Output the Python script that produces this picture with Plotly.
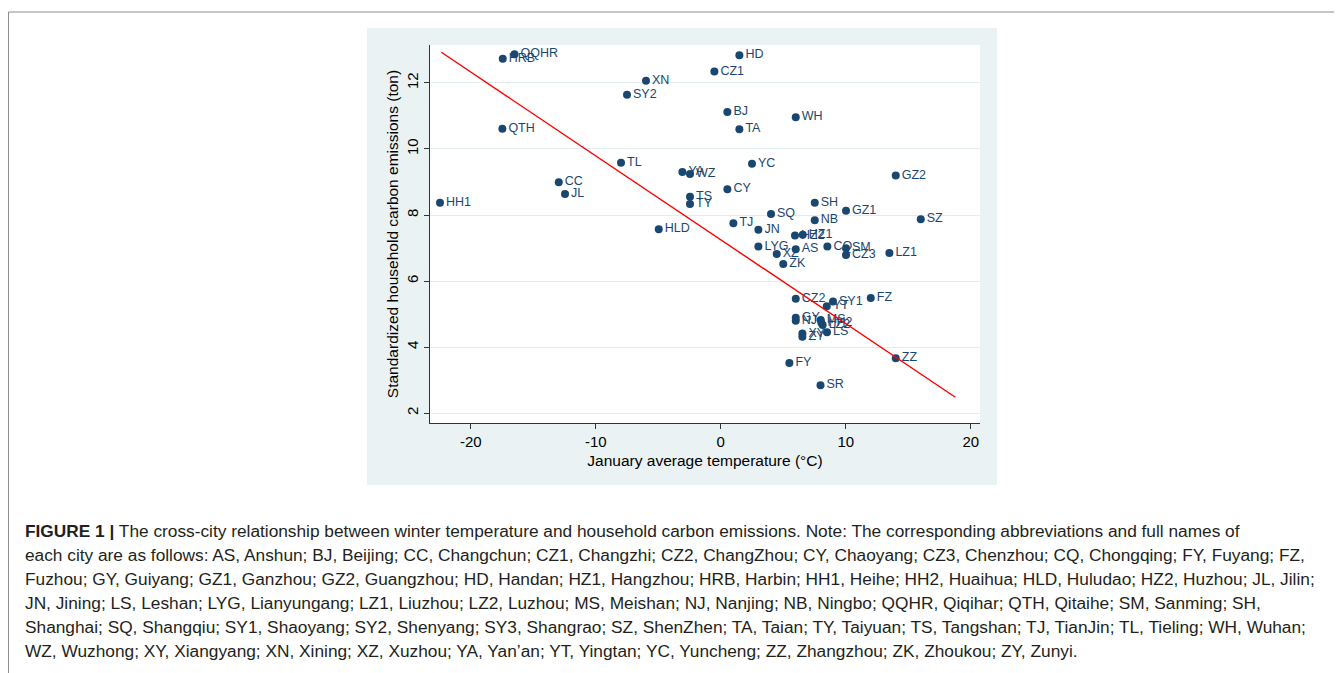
import plotly.graph_objects as go

# ---- data ----
city = ["QQHR", "HRB", "XN", "SY2", "QTH", "TL", "CC", "JL", "HH1",
        "HD", "CZ1", "BJ", "WH", "TA", "YC", "YA", "WZ", "GZ2", "CY",
        "TS", "TY", "SH", "GZ1", "SQ", "NB", "SZ", "TJ", "JN", "HLD",
        "HZ2", "HZ1", "LYG", "AS", "CQ", "SM", "CZ3", "XZ", "LZ1", "ZK",
        "CZ2", "SY1", "YT", "FZ", "GY", "NJ", "MS", "HH2", "LZ2", "LS",
        "XY", "ZY", "FY", "SR", "ZZ"]
jan_temp = [-16.5, -17.44, -5.98, -7.5, -17.47, -7.98, -12.96, -12.46, -22.46,
            1.49, -0.51, 0.53, 6.0, 1.49, 2.5, -3.07, -2.46, 14.0, 0.53,
            -2.46, -2.46, 7.52, 10.02, 4.02, 7.52, 16.0, 1.01, 3.01, -4.96,
            5.94, 6.56, 3.01, 6.0, 8.53, 10.02, 10.02, 4.48, 13.49, 5.0,
            6.0, 8.98, 8.48, 12.0, 6.0, 6.0, 8.0, 8.05, 8.15, 8.5,
            6.53, 6.53, 5.49, 7.98, 14.0]
emissions = [12.87, 12.73, 12.07, 11.64, 10.61, 9.58, 8.99, 8.64, 8.37,
             12.84, 12.35, 11.12, 10.96, 10.60, 9.55, 9.30, 9.24, 9.20, 8.78,
             8.55, 8.33, 8.37, 8.13, 8.03, 7.84, 7.87, 7.75, 7.55, 7.57,
             7.38, 7.40, 7.05, 6.96, 7.05, 6.99, 6.79, 6.82, 6.85, 6.52,
             5.46, 5.38, 5.24, 5.49, 4.89, 4.80, 4.82, 4.74, 4.67, 4.45,
             4.41, 4.31, 3.52, 2.84, 3.66]
# fitted line end points
fit_temp = [-22.35, 18.77]
fit_emis = [12.93, 2.48]

x_ticks = [-20, -10, 0, 10, 20]
x_tick_text = ["-20", "-10", "0", "10", "20"]
y_ticks = [2, 4, 6, 8, 10, 12]
y_tick_text = ["2", "4", "6", "8", "10", "12"]

caption_lines = [
    "<b>FIGURE 1 |</b> The cross-city relationship between winter temperature and household carbon emissions. Note: The corresponding abbreviations and full names of",
    "each city are as follows: AS, Anshun; BJ, Beijing; CC, Changchun; CZ1, Changzhi; CZ2, ChangZhou; CY, Chaoyang; CZ3, Chenzhou; CQ, Chongqing; FY, Fuyang; FZ,",
    "Fuzhou; GY, Guiyang; GZ1, Ganzhou; GZ2, Guangzhou; HD, Handan; HZ1, Hangzhou; HRB, Harbin; HH1, Heihe; HH2, Huaihua; HLD, Huludao; HZ2, Huzhou; JL, Jilin;",
    "JN, Jining; LS, Leshan; LYG, Lianyungang; LZ1, Liuzhou; LZ2, Luzhou; MS, Meishan; NJ, Nanjing; NB, Ningbo; QQHR, Qiqihar; QTH, Qitaihe; SM, Sanming; SH,",
    "Shanghai; SQ, Shangqiu; SY1, Shaoyang; SY2, Shenyang; SY3, Shangrao; SZ, ShenZhen; TA, Taian; TY, Taiyuan; TS, Tangshan; TJ, TianJin; TL, Tieling; WH, Wuhan;",
    "WZ, Wuzhong; XY, Xiangyang; XN, Xining; XZ, Xuzhou; YA, Yan\u2019an; YT, Yingtan; YC, Yuncheng; ZZ, Zhangzhou; ZK, Zhoukou; ZY, Zunyi.",
]

# ---- layout geometry (page pixels; page body has an 8px margin) ----
OFF = 8
W, H = 1342 - OFF, 673 - OFF
PL, PR, PT, PB = 430, 980, 45, 423  # plot area in page pixels


def px_x(p):
    return (p - PL) / (PR - PL)


def px_y(p):
    return (PB - p) / (PB - PT)


NAVY = "#1A476F"
FONT = "Liberation Sans"
BG = "#EAF2F3"

fig = go.Figure()
fig.add_trace(go.Scatter(
    x=jan_temp, y=emissions, text=city, mode="markers+text",
    textposition="middle right",
    marker=dict(color=NAVY, size=8),
    textfont=dict(family=FONT, size=12.5, color=NAVY),
    cliponaxis=False, showlegend=False, hoverinfo="skip"))
fig.add_trace(go.Scatter(
    x=fit_temp, y=fit_emis, mode="lines",
    line=dict(color="#FF0000", width=1.4),
    showlegend=False, hoverinfo="skip"))

shapes = [
    dict(type="rect", xref="paper", yref="paper", layer="below",
         x0=px_x(367), x1=px_x(997), y0=px_y(485), y1=px_y(28),
         fillcolor=BG, line=dict(width=0)),
    dict(type="rect", xref="paper", yref="paper", layer="below",
         x0=0, x1=1, y0=0, y1=1, fillcolor="white", line=dict(width=0)),
    dict(type="line", xref="paper", yref="paper",
         x0=px_x(OFF + 0.5), x1=px_x(1342), y0=px_y(12), y1=px_y(12),
         line=dict(color="#8C8C8C", width=1)),
    dict(type="line", xref="paper", yref="paper",
         x0=px_x(OFF + 0.5), x1=px_x(OFF + 0.5), y0=px_y(12), y1=px_y(673),
         line=dict(color="#8C8C8C", width=1)),
]

annotations = []
for i, line in enumerate(caption_lines):
    annotations.append(dict(
        xref="paper", yref="paper", x=px_x(23), y=px_y(531 + 24 * i),
        xanchor="left", yanchor="middle", showarrow=False, text=line,
        font=dict(family=FONT, size=17.3, color="#231F20")))

fig.update_layout(
    width=W, height=H, autosize=False,
    margin=dict(l=PL - OFF, r=W - (PR - OFF), t=PT - OFF, b=H - (PB - OFF), pad=0),
    paper_bgcolor="white", plot_bgcolor="white",
    font=dict(family=FONT, color="black"),
    shapes=shapes, annotations=annotations,
    xaxis=dict(
        range=[-23.26, 20.74], tickvals=x_ticks, ticktext=x_tick_text,
        ticks="outside", ticklen=5,
        tickcolor="#333333", tickwidth=1, showline=True, linecolor="#333333",
        linewidth=1.2, showgrid=False, zeroline=False,
        tickfont=dict(family=FONT, size=15, color="black"),
        title=dict(text="January average temperature (°C)", standoff=6,
                   font=dict(family=FONT, size=15.5, color="black"))),
    yaxis=dict(
        range=[1.70, 13.15], tickvals=y_ticks, ticktext=y_tick_text,
        ticks="outside", ticklen=5,
        tickcolor="#333333", tickwidth=1, showline=True, linecolor="#333333",
        linewidth=1.2, showgrid=True, gridcolor="#E3ECEF", gridwidth=1,
        zeroline=False, tickangle=-90,
        tickfont=dict(family=FONT, size=15, color="black"),
        title=dict(text="Standardized household carbon emissions (ton)",
                   standoff=1,
                   font=dict(family=FONT, size=15.5, color="black"))),
)

fig.write_html("out.html")
